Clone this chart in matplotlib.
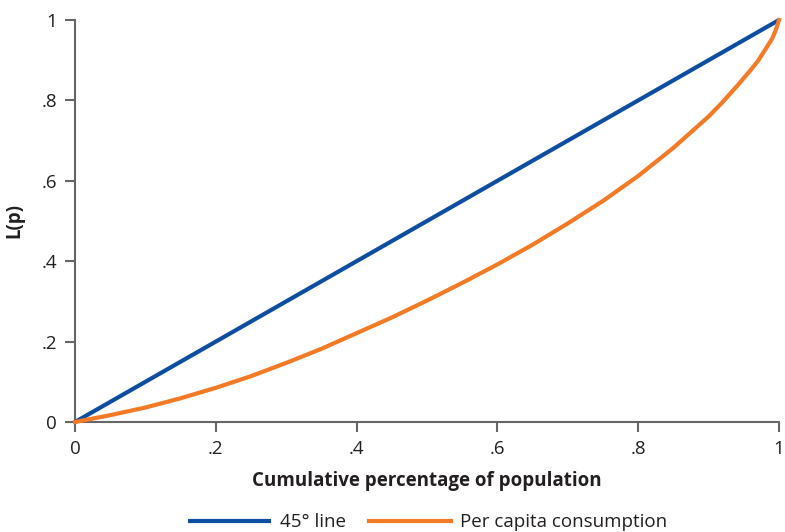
import matplotlib
matplotlib.use("Agg")
import matplotlib.pyplot as plt

plt.rcParams['font.family'] = ['Open Sans', 'DejaVu Sans']

x_line = [0, 1]
y_line = [0, 1]

pop = [0, .05, .1, .15, .2, .25, .3, .35, .4, .45, .5, .55, .6, .65, .7, .75, .8,
       .85, .9, .92, .94, .96, .97, .98, .99, .995, 1]
lp = [0, .017, .036, .059, .085, .114, .147, .182, .221, .260, .302, .346, .392, .441, .494, .550, .612,
      .682, .760, .796, .835, .876, .898, .925, .953, .973, 1.0]

ticks = [0, .2, .4, .6, .8, 1]
tick_labels = ['0', '.2', '.4', '.6', '.8', '1']

blue = '#0D4EA2'
orange = '#F47A25'
gray = '#666666'
text_c = '#231F20'
fs = 13.5

fig = plt.figure(figsize=(7.85, 5.32), dpi=100)
ax = fig.add_axes([75/785, 1-422/532, (779-75)/785, (422-20)/532])

ax.plot(x_line, y_line, color=blue, lw=3.0, label='45° line', clip_on=False, solid_capstyle='butt', zorder=3)
ax.plot(pop, lp, color=orange, lw=3.0, label='Per capita consumption', clip_on=False, zorder=4)

ax.set_xlim(0, 1)
ax.set_ylim(0, 1)
ax.set_xticks(ticks)
ax.set_xticklabels(tick_labels)
ax.set_yticks(ticks)
ax.set_yticklabels(tick_labels)
for s in ['top', 'right']:
    ax.spines[s].set_visible(False)
for s in ['left', 'bottom']:
    ax.spines[s].set_color(gray)
    ax.spines[s].set_linewidth(1.5)
ax.tick_params(axis='both', direction='out', length=7, width=1.5, color=gray,
               labelsize=fs, labelcolor=text_c, pad=6)

ax.set_xlabel('Cumulative percentage of population', fontsize=fs, fontweight='bold',
              color=text_c, labelpad=9)
ax.set_ylabel('L(p)', fontsize=fs, fontweight='bold', color=text_c, labelpad=12)

fig.legend(loc='lower center', bbox_to_anchor=(0.545, -0.03), ncol=2, frameon=False,
           fontsize=fs, handlelength=4.4, columnspacing=1.2, handletextpad=0.5,
           labelcolor=text_c)

fig.savefig('out.png', dpi=100)
